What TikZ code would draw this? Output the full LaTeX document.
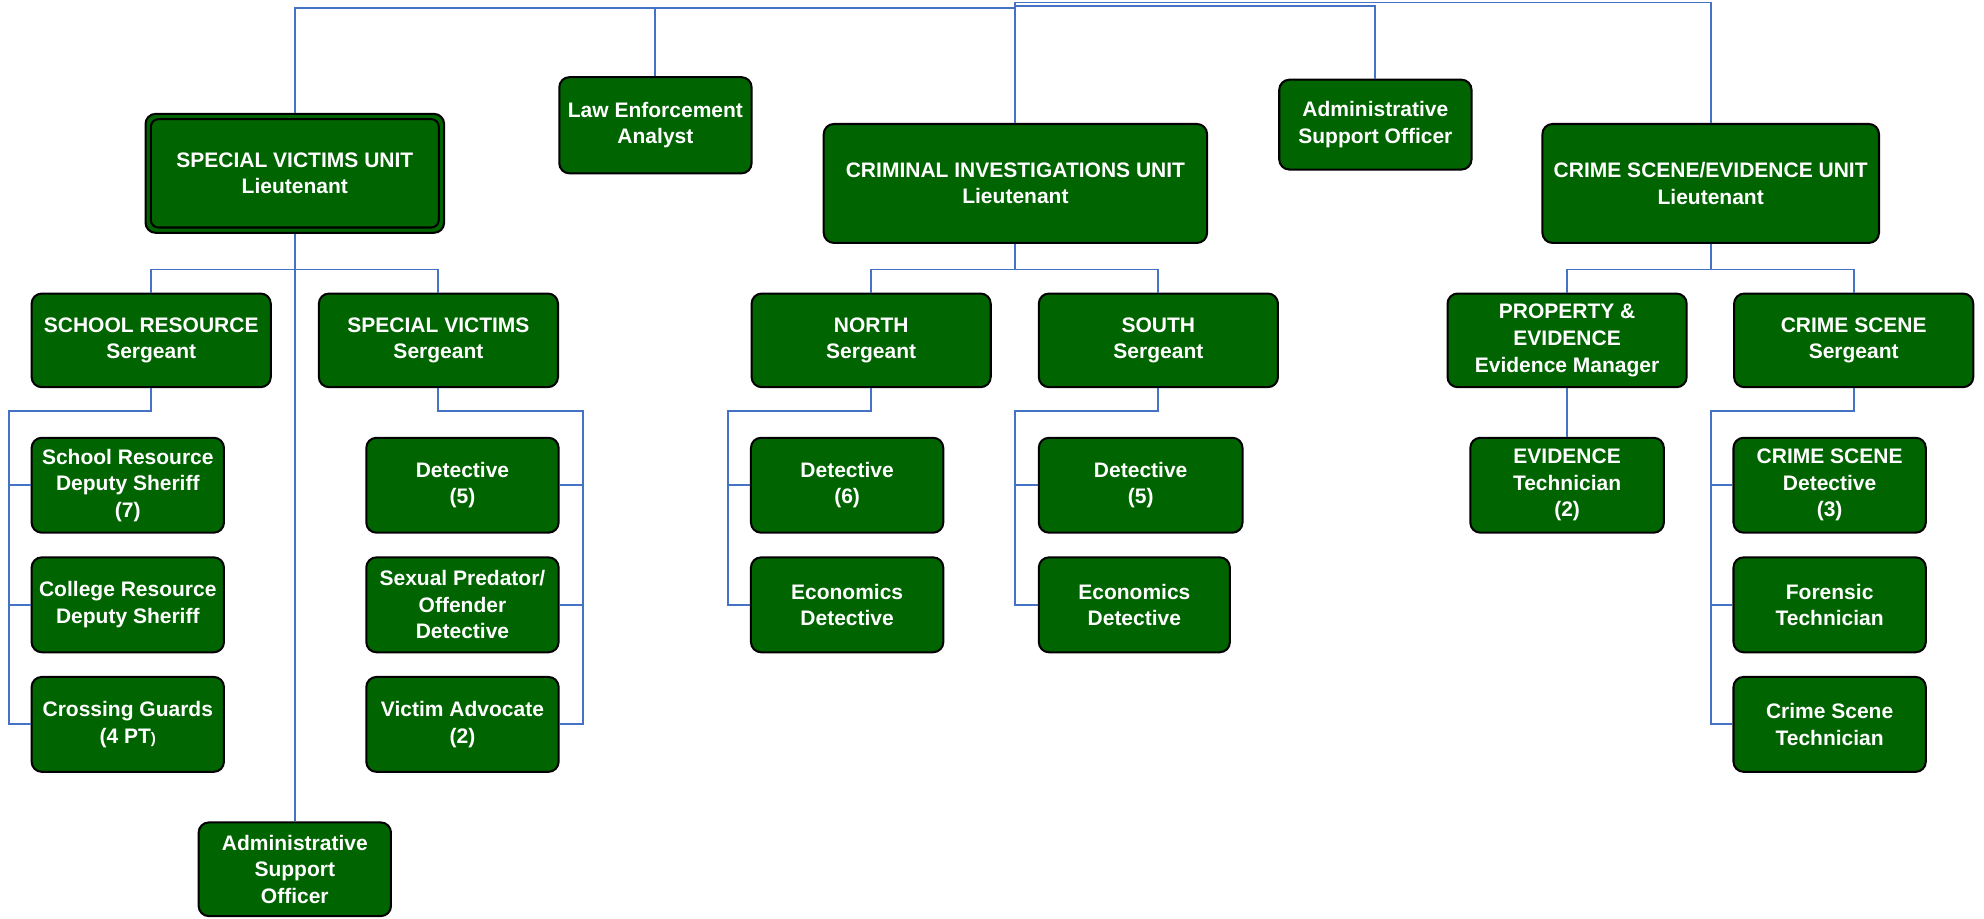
\documentclass[tikz,border=0pt]{standalone}
\usepackage{fontspec}
\setmainfont{Liberation Sans}
\definecolor{unitgreen}{RGB}{0,100,0}
\definecolor{lineblue}{RGB}{68,114,196}

\begin{document}
\begin{tikzpicture}[x=0.5pt, y=-0.5pt,
	box/.style={shape=rectangle, draw=black, fill=unitgreen, text=white, line width=0.8pt, rounded corners=4pt, align=center, inner sep=0pt, font=\bfseries\fontsize{8.3}{10.5}\selectfont},
	head/.style={box, minimum height=47pt},
	sarge/.style={box, minimum width=94.5pt, minimum height=37pt},
	staff/.style={box, minimum width=76pt, minimum height=37.5pt},
	link/.style={draw=lineblue, line width=0.75pt}]
	\useasboundingbox (0,0) rectangle (1568,726);

	\node[head, minimum width=118pt]                 (0) at (233,137)    {SPECIAL VICTIMS UNIT\\Lieutenant};
	\node[staff, minimum height=38pt]                (1) at (518,99)     {Law Enforcement\\Analyst};
	\node[head, minimum width=151.5pt]               (2) at (802.5,145)  {CRIMINAL INVESTIGATIONS UNIT\\Lieutenant};
	\node[staff, minimum height=35.5pt]              (3) at (1087,98.5)  {Administrative\\Support Officer};
	\node[head, minimum width=133pt]                 (4) at (1352,145)   {CRIME SCENE/EVIDENCE UNIT\\Lieutenant};

	\node[sarge]                                     (5) at (119.5,269)  {SCHOOL RESOURCE\\Sergeant};
	\node[sarge]                                     (6) at (346.5,269)  {SPECIAL VICTIMS\\Sergeant};
	\node[sarge]                                     (7) at (688.5,269)  {NORTH\\Sergeant};
	\node[sarge]                                     (8) at (915.5,269)  {SOUTH\\Sergeant};
	\node[sarge]                                     (9) at (1238.5,269) {PROPERTY \&\\EVIDENCE\\Evidence Manager};
	\node[sarge]                                     (10) at (1465,269)  {CRIME SCENE\\Sergeant};

	\node[staff]                                     (11) at (101,383.5) {School Resource\\Deputy Sheriff\\(7)};
	\node[staff]                                     (12) at (101,478)   {College Resource\\Deputy Sheriff};
	\node[staff]                                     (13) at (101,572.5) {Crossing Guards\\(4 PT{\fontsize{6}{6}\selectfont)}};
	\node[staff]                                     (14) at (365.5,383.5) {Detective\\(5)};
	\node[staff]                                     (15) at (365.5,478) {Sexual Predator/\\Offender\\Detective};
	\node[staff]                                     (16) at (365.5,572.5) {Victim Advocate\\(2)};
	\node[staff, minimum height=37pt]                (17) at (233,687)   {Administrative\\Support\\Officer};
	\node[staff]                                     (18) at (669.5,383.5) {Detective\\(6)};
	\node[staff]                                     (19) at (669.5,478) {Economics\\Detective};
	\node[staff, minimum width=80.5pt]               (20) at (901.5,383.5) {Detective\\(5)};
	\node[staff, minimum width=75.5pt]               (21) at (896.5,478) {Economics\\Detective};
	\node[staff, minimum width=76.5pt]               (22) at (1238.5,383.5) {EVIDENCE\\Technician\\(2)};
	\node[staff]                                     (23) at (1446,383.5) {CRIME SCENE\\Detective\\(3)};
	\node[staff]                                     (24) at (1446,478)  {Forensic\\Technician};
	\node[staff]                                     (25) at (1446,572.5) {Crime Scene\\Technician};

	\draw[line width=0.8pt, rounded corners=3pt] ([shift={(2.5pt,-2.5pt)}]0.north west) rectangle ([shift={(-2.5pt,2.5pt)}]0.south east);

	\coordinate (t0) at (802.5,6);
	\coordinate (t1) at (802.5,2);
	\coordinate (t2) at (802.5,4.5);
	\coordinate (s0) at (233,213);
	\coordinate (s1) at (802.5,213);
	\coordinate (s2) at (1352,213);
	\coordinate (b0) at (7,325);
	\coordinate (b1) at (461,325);
	\coordinate (b2) at (575,325);
	\coordinate (b3) at (802,325);
	\coordinate (b4) at (1352,325);

	\draw[link] (0.north) |- (t0);
	\draw[link] (1.north) -- (1.north |- t0);
	\draw[link] (2.north) -- (t1) -| (4.north);
	\draw[link] (3.north) |- (t2);

	\draw[link] (0.south) -- (17.north);
	\draw[link] (5.north) |- (s0) -| (6.north);
	\draw[link] (2.south) -- (s1);
	\draw[link] (7.north) |- (s1) -| (8.north);
	\draw[link] (4.south) -- (s2);
	\draw[link] (9.north) |- (s2) -| (10.north);

	\draw[link] (5.south) |- (b0) |- (13.west);
	\draw[link] (b0) |- (11.west);
	\draw[link] (b0) |- (12.west);
	\draw[link] (6.south) |- (b1) |- (16.east);
	\draw[link] (b1) |- (14.east);
	\draw[link] (b1) |- (15.east);
	\draw[link] (7.south) |- (b2) |- (19.west);
	\draw[link] (b2) |- (18.west);
	\draw[link] (8.south) |- (b3) |- (21.west);
	\draw[link] (b3) |- (20.west);
	\draw[link] (9.south) -- (22.north);
	\draw[link] (10.south) |- (b4) |- (25.west);
	\draw[link] (b4) |- (23.west);
	\draw[link] (b4) |- (24.west);
\end{tikzpicture}
\end{document}
